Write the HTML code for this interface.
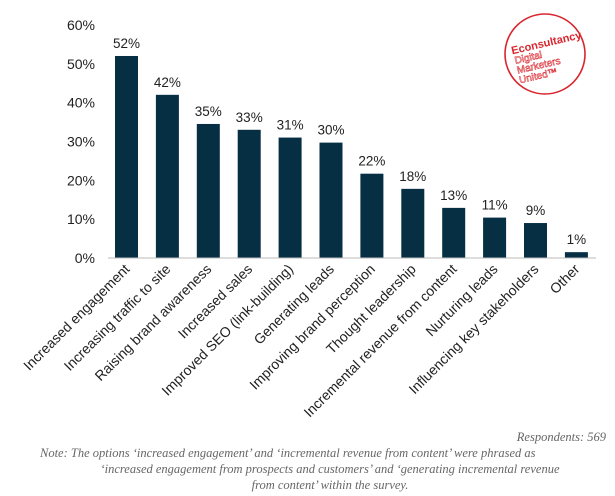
<!DOCTYPE html>
<html><head><meta charset="utf-8"><style>
html,body{margin:0;padding:0;background:#fff;}
svg{display:block;}
</style></head><body>
<svg width="615" height="496" xmlns="http://www.w3.org/2000/svg" font-family="Liberation Sans, sans-serif">
<g id="axis"></g>
<g id="bars"></g>
<line x1="108" y1="258" x2="596" y2="258" stroke="#bbb" stroke-width="1"/>
<g id="xlabels"></g>
<g>
<circle cx="545" cy="54" r="40" fill="none" stroke="#d9262e" stroke-width="1.6"/>
<g transform="rotate(-13 545 54)" fill="#d9262e">
<text x="513" y="47" font-size="11" font-weight="bold">Econsultancy</text>
<text x="514" y="57" font-size="10" fill="none" stroke="#d9262e" stroke-width="0.5">Digital</text>
<text x="514" y="67" font-size="10" fill="none" stroke="#d9262e" stroke-width="0.5">Marketers</text>
<text x="514" y="77" font-size="10" fill="none" stroke="#d9262e" stroke-width="0.5">United™</text>
</g></g>
<g font-family="Liberation Serif, serif" font-style="italic" font-size="12.5" fill="#666">
<text x="606" y="441" text-anchor="end">Respondents: 569</text>
<text x="40" y="457">Note: The options ‘increased engagement’ and ‘incremental revenue from content’ were phrased as</text>
<text x="330" y="473" text-anchor="middle">‘increased engagement from prospects and customers’ and ‘generating incremental revenue</text>
<text x="330" y="489" text-anchor="middle">from content’ within the survey.</text>
</g>
</svg>
<script>
const categories=["Increased engagement","Increasing traffic to site","Raising brand awareness","Increased sales","Improved SEO (link-building)","Generating leads","Improving brand perception","Thought leadership","Incremental revenue from content","Nurturing leads","Influencing key stakeholders","Other"];
const values=[52,42,34.5,33,31,29.7,21.7,17.8,12.9,10.4,9,1.5];
const valueLabels=["52%","42%","35%","33%","31%","30%","22%","18%","13%","11%","9%","1%"];
const yTicks=[0,10,20,30,40,50,60];
const NS="http://www.w3.org/2000/svg";
const y=v=>258-v*3.885;
const x=i=>115+i*40.9;
const bw=23;
function mk(tag,attrs,parent){const e=document.createElementNS(NS,tag);for(const k in attrs)e.setAttribute(k,attrs[k]);parent.appendChild(e);return e;}
const ax=document.getElementById('axis'),bars=document.getElementById('bars'),xl=document.getElementById('xlabels');
yTicks.forEach(t=>{const e=mk('text',{x:95,y:y(t)+5,'text-anchor':'end','font-size':'14',fill:'#222'},ax);e.textContent=t+'%';

});
categories.forEach((c,i)=>{
const r=mk('rect',{x:x(i),y:y(values[i]),width:bw,height:258-y(values[i]),fill:'#062f44'},bars);


const t=mk('text',{x:x(i)+bw/2,y:y(values[i])-8,'text-anchor':'middle','font-size':'13.5',fill:'#222'},bars);
t.textContent=valueLabels[i];


const cx=x(i)+bw/2+4,cy=270;
const l=mk('text',{x:cx,y:cy,'text-anchor':'end','font-size':'14',fill:'#222',transform:`rotate(-45 ${cx} ${cy})`},xl);
l.textContent=c;


});
</script>
</body></html>
